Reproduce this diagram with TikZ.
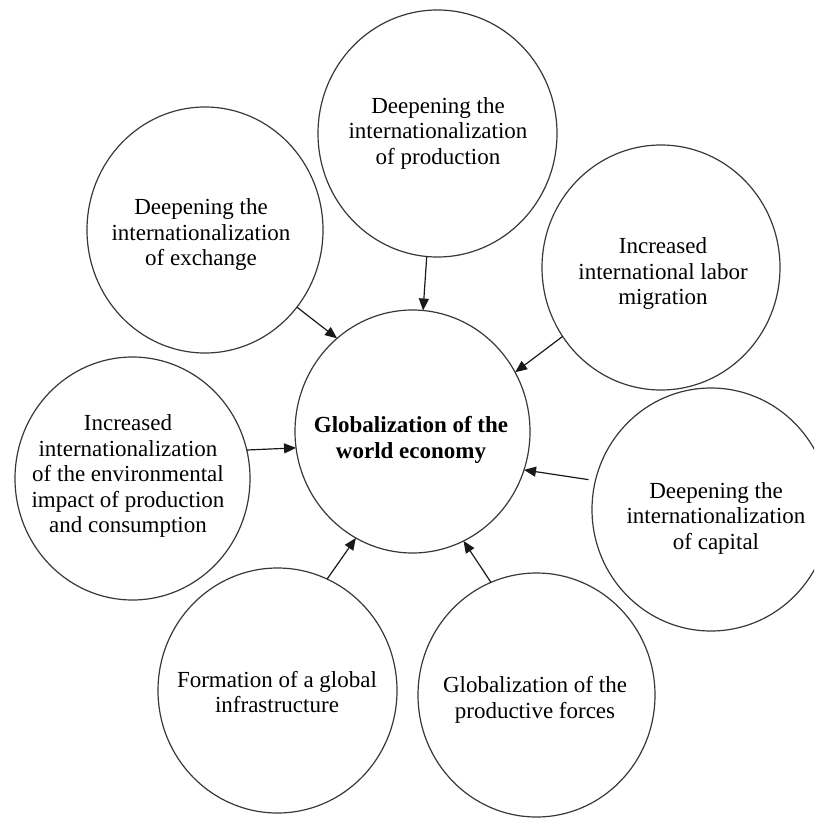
\documentclass[tikz,border=0pt]{standalone}
\usepackage{fontspec}
\setmainfont{Liberation Serif}
\usetikzlibrary{shapes.geometric,arrows.meta}
\begin{document}
\begin{tikzpicture}[x=1pt,y=-1pt,
  bubble/.style={ellipse,draw=black!78,line width=1.2pt,inner sep=0pt,outer sep=0pt},
  label/.style={align=center,font=\fontsize{23}{25.5}\selectfont,inner sep=0pt},
  arr/.style={-{Triangle[length=12pt,width=10pt]},line width=1.2pt,black!90}]
\useasboundingbox (0,0) rectangle (814,818);
\clip (0,0) rectangle (814,818);
% circles
\node[bubble,minimum width=235pt,minimum height=243pt] (C)  at (412.5,431.5) {};
\node[bubble,minimum width=239pt,minimum height=247pt] (T)  at (437.5,133.5) {};
\node[bubble,minimum width=236pt,minimum height=246pt] (TL) at (205,230) {};
\node[bubble,minimum width=238pt,minimum height=245pt] (RT) at (661,267.5) {};
\node[bubble,minimum width=235pt,minimum height=243pt] (L)  at (132.5,478.5) {};
\node[bubble,minimum width=238pt,minimum height=243pt] (R)  at (711,509.5) {};
\node[bubble,minimum width=239pt,minimum height=245pt] (BL) at (277.5,690.5) {};
\node[bubble,minimum width=237pt,minimum height=244pt] (BR) at (536.5,695) {};
% texts
\node[label,font=\fontsize{23}{26}\selectfont\bfseries] (tC) at (411,440) {Globalization of the\\world economy};
\node[label] (tT)  at (438,133) {Deepening the\\internationalization\\of production};
\node[label] (tTL) at (201,235) {Deepening the\\internationalization\\of exchange};
\node[label] (tRT) at (663,274) {Increased\\international labor\\migration};
\node[label] (tL)  at (128,476) {Increased\\internationalization\\of the environmental\\impact of production\\and consumption};
\node[label] (tR)  at (716,518) {Deepening the\\internationalization\\of capital};
\node[label] (tBL) at (277,692) {Formation of a global\\infrastructure};
\node[label] (tBR) at (535,700) {Globalization of the\\productive forces};
% arrows
\draw[arr] (T.265.6) -- (C.85);
\draw[arr] (TL.320) -- (C.129.5);
\draw[arr] (RT.215.6) -- (C.30);
\draw[arr] (L.14.8) -- (C.188);
\draw[arr,shorten <=7pt] (R.166.2) -- (C.341.4);
\draw[arr] (BL.66.8) -- (C.242.7);
\draw[arr] (BR.112.4) -- (C.295.4);
\end{tikzpicture}
\end{document}
